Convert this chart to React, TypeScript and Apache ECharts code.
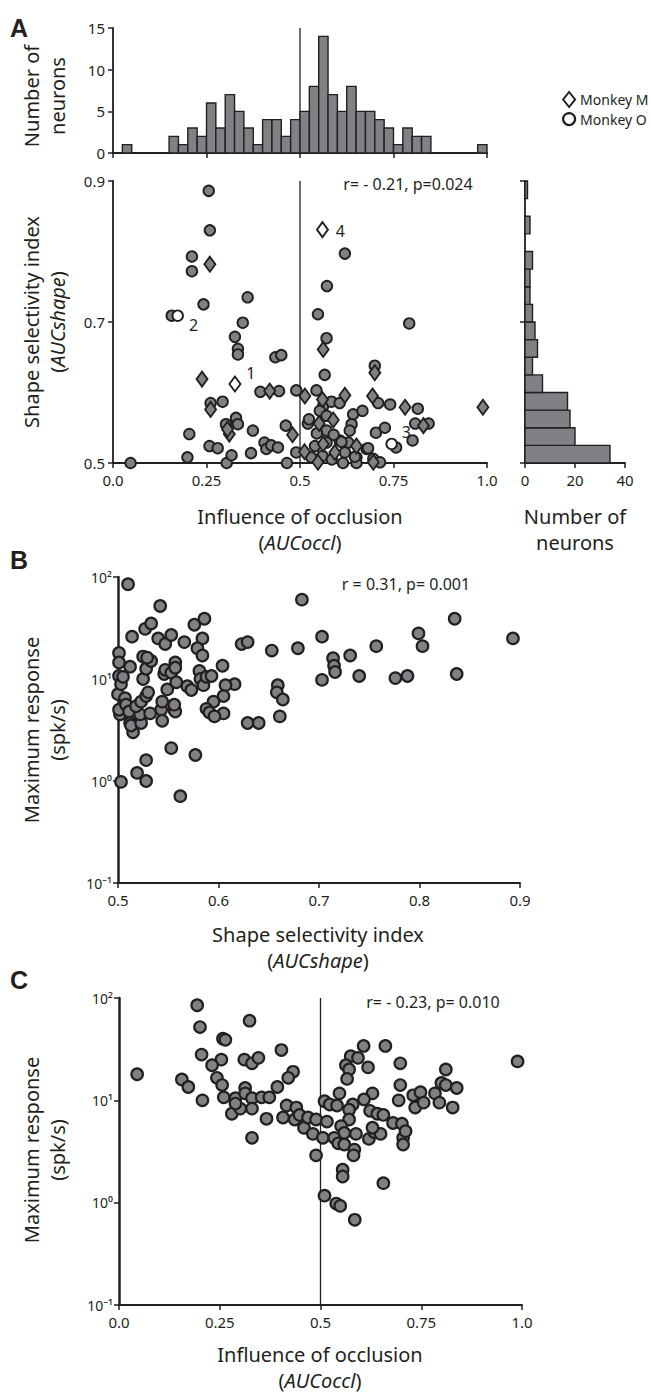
import React, { useEffect, useRef } from 'react';
import * as echarts from 'echarts';

// ---------- DATA ----------
// Panel A top histogram: counts per 0.025-wide AUCoccl bin, from 0 to 1
const occlBinWidth = 0.025;
const occlBinCounts = [0,1,0,0,0,0,2,1,3,2,6,3,7,5,3,1,4,4,2,4,5,8,14,7,5,8,5,5,4,3,1,3,2,2,0,0,0,0,0,1];
// Panel A side histogram: counts per 0.025-wide AUCshape bin, from 0.5 to 0.9
const shapeBinStart = 0.5;
const shapeBinWidth = 0.025;
const shapeBinCounts = [34,20,18,17,7,3,5,4,3,2,2,3,0,2,0,1];

// Panel A scatter, Monkey O (circles)
const aO_occl = [0.256,0.259,0.211,0.211,0.242,0.157,0.360,0.347,0.326,0.334,0.334,0.434,0.450,0.394,0.444,0.490,0.261,0.293,0.302,0.329,0.334,0.204,0.374,0.258,0.280,0.199,0.047,0.304,0.317,0.369,0.405,0.410,0.423,0.441,0.462,0.465,0.490,
  0.544,0.548,0.572,0.620,0.571,0.566,0.562,0.553,0.584,0.606,0.642,0.667,0.638,0.633,0.521,0.571,0.571,0.545,0.540,0.530,0.571,0.615,0.606,0.629,0.651,0.651,0.678,0.696,0.714,0.700,0.709,0.741,0.703,0.727,0.757,0.792,0.815,0.808,0.844,0.801,
  0.524,0.611,0.647,0.682,0.590,0.560,0.585,0.620];
const aO_shape = [0.886,0.830,0.793,0.772,0.725,0.709,0.735,0.699,0.679,0.662,0.654,0.650,0.653,0.601,0.602,0.603,0.585,0.587,0.555,0.564,0.555,0.541,0.546,0.524,0.521,0.508,0.500,0.500,0.511,0.514,0.529,0.520,0.525,0.522,0.553,0.500,0.515,
  0.603,0.711,0.751,0.797,0.677,0.625,0.581,0.574,0.587,0.585,0.569,0.574,0.555,0.546,0.556,0.567,0.546,0.542,0.524,0.508,0.529,0.500,0.532,0.529,0.508,0.500,0.520,0.506,0.501,0.638,0.585,0.583,0.543,0.550,0.522,0.698,0.577,0.556,0.556,0.532,
  0.562,0.530,0.509,0.521,0.540,0.510,0.505,0.515];
// Panel A scatter, Monkey M (diamonds)
const aM_occl = [0.259,0.562,0.238,0.419,0.513,0.261,0.311,0.480,0.560,0.620,0.551,0.589,0.562,0.512,0.548,0.593,0.651,0.696,0.700,0.694,0.781,0.830,0.989,0.306];
const aM_shape = [0.782,0.661,0.619,0.602,0.595,0.576,0.541,0.540,0.590,0.596,0.556,0.561,0.527,0.516,0.501,0.515,0.524,0.501,0.628,0.595,0.579,0.553,0.579,0.548];
// Example neurons (open markers)
const exM_occl = [0.326, 0.560];
const exM_shape = [0.612, 0.831];
const exM_labels = ['1', '4'];
const exO_occl = [0.173, 0.745];
const exO_shape = [0.709, 0.527];
const exO_labels = ['2', '3'];

// Panel B: shape selectivity vs maximum response (spk/s)
const b_shape = [0.510,0.542,0.683,0.527,0.533,0.514,0.540,0.547,0.553,0.566,0.576,0.586,0.584,0.579,0.584,0.623,0.629,0.653,0.679,0.703,0.714,0.715,0.716,0.703,0.731,0.740,0.757,0.776,0.788,0.799,0.803,0.835,0.837,0.893,
  0.604,0.616,0.607,0.605,0.605,0.595,0.588,0.591,0.596,0.659,0.658,0.664,0.661,0.629,0.640,0.553,0.577,0.528,0.519,0.528,0.503,0.562,
  0.501,0.501,0.501,0.500,0.503,0.502,0.501,0.505,0.512,0.507,0.508,0.511,0.512,0.515,0.513,0.523,0.522,0.518,0.523,0.528,0.530,0.525,0.528,0.525,0.533,0.529,0.532,0.543,0.544,0.544,0.549,0.546,0.547,0.553,0.557,0.557,0.556,0.557,0.558,0.569,0.573,0.581,0.582,0.585,0.588,0.593,0.556];
const b_resp = [85,52,60,31,35,26,25,22,27,23,34,39,25,20,17,22,23,19,20,26,16,13.5,11.7,9.8,17,10.7,21,10.2,10.7,28,21,39,11.2,25,
  13.5,8.9,8.7,6.8,4.6,6.0,5.1,4.7,4.3,8.7,7.4,6.3,4.3,3.7,3.7,2.1,1.8,1.6,1.2,1.0,0.98,0.71,
  18,14.5,10.7,7.1,8.9,4.5,5.0,10.5,13.2,6.5,5.6,4.8,3.7,3.0,3.5,3.7,4.5,5.4,6.0,6.8,7.4,10,12.6,16.6,15,16.2,4.6,5.0,6.0,3.9,7.9,11.2,12.3,11.5,14.5,12.9,5.0,4.8,9.3,8.5,7.8,12,10,8.7,10.5,10.7,5.6];

// Panel C: influence of occlusion vs maximum response (spk/s)
const c_occl = [0.045,0.194,0.201,0.324,0.258,0.264,0.205,0.254,0.231,0.311,0.330,0.346,0.403,0.432,0.420,0.156,0.172,0.207,0.243,0.256,0.260,0.289,0.313,0.313,0.330,0.280,0.301,0.330,0.289,0.354,0.373,0.393,0.366,0.330,0.416,0.407,0.440,0.436,0.448,0.459,0.469,0.481,0.489,0.489,
  0.506,0.516,0.510,0.523,0.510,0.539,0.549,0.585,0.555,0.555,0.656,0.547,0.541,0.575,0.593,0.563,0.571,0.566,0.607,0.661,0.618,0.698,0.698,0.694,0.629,0.608,0.580,0.571,0.571,0.551,0.559,0.534,0.544,0.559,0.584,0.582,0.588,
  0.623,0.641,0.656,0.620,0.633,0.649,0.629,0.680,0.702,0.705,0.705,0.711,0.730,0.748,0.735,0.756,0.784,0.795,0.800,0.811,0.811,0.828,0.838,0.989];
const c_resp = [18,85,52,60,40,39,28,25,22,25,23,26,31,19,16.6,16,13.5,10,16.6,14.1,10.7,10.5,13.2,11.7,10.5,7.4,8.3,8.3,9.3,10.7,10.7,13.5,6.6,4.3,8.9,6.8,8.5,6.5,7.2,5.4,6.8,4.7,6.5,2.9,
  4.3,6.2,9.8,9.1,1.17,0.98,0.93,0.68,2.1,1.8,1.55,11.7,8.9,27,26,22,20,16.2,34,34,21,23,14.1,10,11.7,10.2,9.1,8.1,6.5,5.6,4.8,4.3,3.8,3.7,3.3,2.9,4.7,
  7.9,7.4,7.2,4.2,4.9,4.7,5.4,6.0,5.9,4.3,3.7,5.0,11.2,12,8.5,9.5,11.7,9.5,14.8,20,14.1,8.5,13.2,24];

const occlTicks = ['0.0', '0.25', '0.5', '0.75', '1.0'];
const logTickLabels: Record<string, string> = { '-1': '10⁻¹', '0': '10⁰', '1': '10¹', '2': '10²' };

// ---------- STYLE ----------
const AX = '#231f20';
const FILL = '#808184';
const FONT = '"Noto Sans", "Open Sans", sans-serif';
const TICK = 15;
const TITLE = 20;

const zip = (a: number[], b: number[]) => a.map((v, i) => [v, b[i]]);

function axisBase(extra: any = {}) {
  return {
    splitLine: { show: false },
    axisLine: { show: true, onZero: false, lineStyle: { color: AX, width: 1.8 } },
    axisTick: { show: true, inside: false, length: 5, lineStyle: { color: AX, width: 1.5 } },
    axisLabel: { color: AX, fontSize: TICK, fontFamily: FONT, margin: 8 },
    ...extra,
  };
}

function histTopItem(params: any, api: any) {
  const x0 = api.value(0), x1 = api.value(1), c = api.value(2);
  if (!c) return null;
  const p0 = api.coord([x0, c]);
  const p1 = api.coord([x1, 0]);
  return {
    type: 'rect',
    shape: { x: p0[0], y: p0[1], width: p1[0] - p0[0], height: p1[1] - p0[1] },
    style: { fill: FILL, stroke: AX, lineWidth: 1.4 },
  };
}
function histSideItem(params: any, api: any) {
  const y0 = api.value(0), y1 = api.value(1), c = api.value(2);
  if (!c) return null;
  const p0 = api.coord([0, y1]);
  const p1 = api.coord([c, y0]);
  return {
    type: 'rect',
    shape: { x: p0[0], y: p0[1], width: p1[0] - p0[0], height: p1[1] - p0[1] },
    style: { fill: FILL, stroke: AX, lineWidth: 1.4 },
  };
}

function txt(x: number, y: number, text: string, opts: any = {}) {
  const size = opts.size || TITLE;
  return {
    type: 'text',
    x, y,
    rotation: opts.rot ? Math.PI / 2 : 0,
    style: {
      text,
      fontSize: size,
      lineHeight: size,
      fontFamily: opts.family || FONT,
      fontWeight: opts.bold ? 'bold' : 'normal',
      fill: AX,
      align: opts.align || 'center',
      verticalAlign: 'middle',
      rich: {
        i: { fontSize: size, lineHeight: size, fontFamily: FONT, fontStyle: 'italic', fill: AX },
      },
    },
  };
}

export default function App() {
  const ref = useRef<HTMLDivElement>(null);
  useEffect(() => {
    if (!ref.current) return;
    const chart = echarts.init(ref.current, undefined, { renderer: 'svg' });

    const topHistData = occlBinCounts.map((c, i) => [i * occlBinWidth, (i + 1) * occlBinWidth, c]);
    const sideHistData = shapeBinCounts.map((c, i) => [shapeBinStart + i * shapeBinWidth, shapeBinStart + (i + 1) * shapeBinWidth, c]);

    const markerStyle = { color: FILL, borderColor: AX, borderWidth: 1.9, opacity: 1 };
    const openStyle = { color: '#ffffff', borderColor: AX, borderWidth: 1.9, opacity: 1 };
    const labelOffsets: Record<string, number[]> = { '1': [1, -11], '2': [1, 9], '3': [0, -12], '4': [3, 1] };
    const exData = (xs: number[], ys: number[], labels: string[]) => xs.map((x, i) => ({
      value: [x, ys[i]],
      label: {
        show: true, formatter: labels[i], position: 'right', distance: 4, offset: labelOffsets[labels[i]],
        color: '#231f20', fontSize: 16, fontFamily: FONT, textBorderWidth: 0,
      },
    }));
    const refLine = (xi: number, yi: number, pts: number[][]) => ({
      type: 'line', xAxisIndex: xi, yAxisIndex: yi, data: pts, symbol: 'none', silent: true, z: 1,
      lineStyle: { color: AX, width: 1.3 }, clip: false,
    });
    const logLabel = { color: AX, fontSize: 14, fontFamily: FONT, margin: 6,
      formatter: (v: number) => logTickLabels[String(Math.round(Math.log10(v)))] || '' };

    const option: any = {
      animation: false,
      backgroundColor: '#ffffff',
      textStyle: { fontFamily: FONT },
      grid: [
        { left: 113, top: 28, width: 374, height: 125 },
        { left: 113, top: 181, width: 374, height: 282 },
        { left: 525, top: 181, width: 100, height: 282 },
        { left: 118, top: 577, width: 402, height: 306 },
        { left: 119, top: 998, width: 403, height: 307 },
      ],
      xAxis: [
        axisBase({ gridIndex: 0, type: 'value', min: 0, max: 1, interval: 0.25, axisLabel: { show: false } }),
        axisBase({ gridIndex: 1, type: 'value', min: 0, max: 1, interval: 0.25,
          axisLabel: { color: AX, fontSize: TICK, fontFamily: FONT, margin: 9, formatter: (v: number) => occlTicks[Math.round(v / 0.25)] } }),
        axisBase({ gridIndex: 2, type: 'value', min: 0, max: 40, interval: 20,
          axisLabel: { color: AX, fontSize: TICK, fontFamily: FONT, margin: 9 } }),
        axisBase({ gridIndex: 3, type: 'value', min: 0.5, max: 0.9, interval: 0.1,
          axisLabel: { color: AX, fontSize: TICK, fontFamily: FONT, margin: 9, formatter: (v: number) => v.toFixed(1) } }),
        axisBase({ gridIndex: 4, type: 'value', min: 0, max: 1, interval: 0.25,
          axisLabel: { color: AX, fontSize: TICK, fontFamily: FONT, margin: 9, formatter: (v: number) => occlTicks[Math.round(v / 0.25)] } }),
      ],
      yAxis: [
        axisBase({ gridIndex: 0, type: 'value', min: 0, max: 15, interval: 5 }),
        axisBase({ gridIndex: 1, type: 'value', min: 0.5, max: 0.9, interval: 0.2,
          axisLabel: { color: AX, fontSize: TICK, fontFamily: FONT, margin: 8, formatter: (v: number) => v.toFixed(1) } }),
        axisBase({ gridIndex: 2, type: 'value', min: 0.5, max: 0.9, interval: 0.2, axisLabel: { show: false } }),
        axisBase({ gridIndex: 3, type: 'log', logBase: 10, min: 0.1, max: 100,
          axisLine: { show: true, onZero: false, lineStyle: { color: AX, width: 2.5 } }, axisLabel: logLabel }),
        axisBase({ gridIndex: 4, type: 'log', logBase: 10, min: 0.1, max: 100,
          axisLine: { show: true, onZero: false, lineStyle: { color: AX, width: 2.5 } }, axisLabel: logLabel }),
      ],
      legend: {
        orient: 'vertical', left: 557, top: 86, itemWidth: 12, itemHeight: 15, itemGap: 4,
        textStyle: { color: AX, fontSize: 14, fontFamily: FONT },
        data: [
          { name: 'Monkey M', icon: 'diamond', itemStyle: { color: '#ffffff', borderColor: AX, borderWidth: 2 } },
          { name: 'Monkey O', icon: 'circle', itemStyle: { color: '#ffffff', borderColor: AX, borderWidth: 2.2 } },
        ],
      },
      series: [
        refLine(0, 0, [[0.5, 0], [0.5, 15]]),
        { type: 'custom', name: 'occl hist', xAxisIndex: 0, yAxisIndex: 0, renderItem: histTopItem, data: topHistData, encode: { x: [0, 1], y: 2 }, z: 2 },
        { type: 'custom', name: 'shape hist', xAxisIndex: 2, yAxisIndex: 2, renderItem: histSideItem, data: sideHistData, encode: { x: 2, y: [0, 1] }, z: 2 },
        refLine(1, 1, [[0.5, 0.5], [0.5, 0.9]]),
        { type: 'scatter', name: 'Monkey O', xAxisIndex: 1, yAxisIndex: 1, symbol: 'circle', symbolSize: 10.5, data: zip(aO_occl, aO_shape), itemStyle: markerStyle, clip: false, z: 3 },
        { type: 'scatter', name: 'Monkey M', xAxisIndex: 1, yAxisIndex: 1, symbol: 'diamond', symbolSize: [11, 15], data: zip(aM_occl, aM_shape), itemStyle: markerStyle, clip: false, z: 3 },
        { type: 'scatter', name: 'Monkey M example', xAxisIndex: 1, yAxisIndex: 1, symbol: 'diamond', symbolSize: [11, 15], data: exData(exM_occl, exM_shape, exM_labels), itemStyle: openStyle, clip: false, z: 4 },
        { type: 'scatter', name: 'Monkey O example', xAxisIndex: 1, yAxisIndex: 1, symbol: 'circle', symbolSize: 10.5, data: exData(exO_occl, exO_shape, exO_labels), itemStyle: openStyle, clip: false, z: 4 },
        { type: 'scatter', name: 'B', xAxisIndex: 3, yAxisIndex: 3, symbol: 'circle', symbolSize: 11.5, data: zip(b_shape, b_resp), itemStyle: { ...markerStyle, borderWidth: 2.2 }, clip: false, z: 3 },
        refLine(4, 4, [[0.5, 0.1], [0.5, 100]]),
        { type: 'scatter', name: 'C', xAxisIndex: 4, yAxisIndex: 4, symbol: 'circle', symbolSize: 11.5, data: zip(c_occl, c_resp), itemStyle: { ...markerStyle, borderWidth: 2.2 }, clip: false, z: 3 },
      ],
      graphic: [
        txt(10, 28, 'A', { size: 25, bold: true, align: 'left', family: '"Liberation Sans", Arial, sans-serif' }),
        txt(10, 560, 'B', { size: 25, bold: true, align: 'left', family: '"Liberation Sans", Arial, sans-serif' }),
        txt(10, 980, 'C', { size: 25, bold: true, align: 'left', family: '"Liberation Sans", Arial, sans-serif' }),
        txt(31, 96, 'Number of', { rot: true }),
        txt(57, 96, 'neurons', { rot: true }),
        txt(31, 322, 'Shape selectivity index', { rot: true }),
        txt(57, 322, '({i|AUCshape})', { rot: true }),
        txt(300, 516, 'Influence of occlusion'),
        txt(300, 542, '({i|AUCoccl})'),
        txt(575, 516, 'Number of'),
        txt(575, 542, 'neurons'),
        txt(408, 184, 'r= - 0.21, p=0.024', { size: 16 }),
        txt(31, 730, 'Maximum response', { rot: true }),
        txt(57, 730, '(spk/s)', { rot: true }),
        txt(318, 934, 'Shape selectivity index'),
        txt(318, 960, '({i|AUCshape})'),
        txt(406, 584, 'r = 0.31, p= 0.001', { size: 16 }),
        txt(31, 1150, 'Maximum response', { rot: true }),
        txt(57, 1150, '(spk/s)', { rot: true }),
        txt(320, 1354, 'Influence of occlusion'),
        txt(320, 1380, '({i|AUCoccl})'),
        txt(433, 1002, 'r= - 0.23, p= 0.010', { size: 16 }),
      ],
    };
    chart.setOption(option);
    return () => chart.dispose();
  }, []);
  return <div ref={ref} style={{ position: 'absolute', left: 0, top: 0, width: 651, height: 1398, background: '#fff' }} />;
}
